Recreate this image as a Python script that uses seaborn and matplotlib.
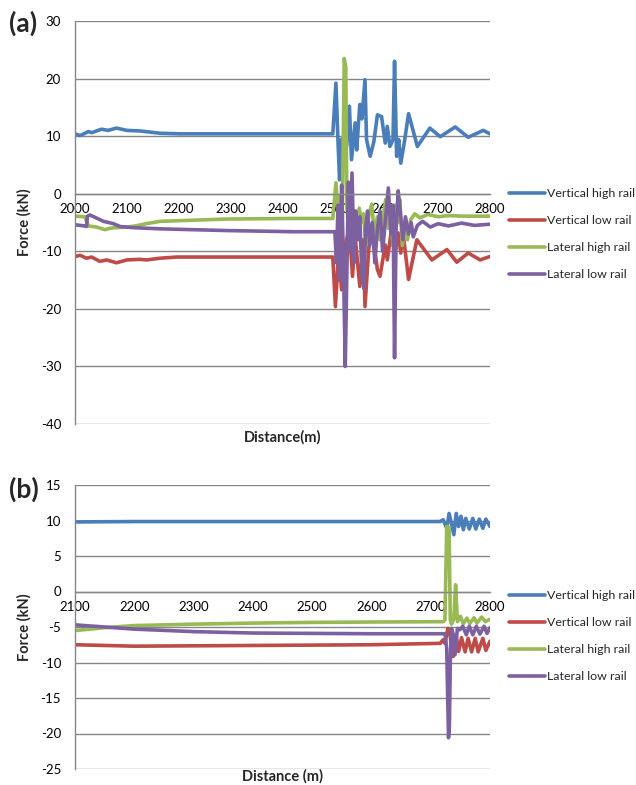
import numpy as np
import pandas as pd
import matplotlib
matplotlib.use("Agg")
import matplotlib.pyplot as plt
import seaborn as sns

# ---------------- data ----------------
series_names = ["Vertical high rail", "Vertical low rail", "Lateral high rail", "Lateral low rail"]
colors = ["#4A7EBB", "#BE4B48", "#98B954", "#7D60A0"]

# Panel (a)
a_vh_x = [2000, 2010, 2026, 2032, 2051, 2064, 2080, 2100, 2125, 2145, 2164, 2202, 2300, 2400, 2497,
          2503, 2507, 2510, 2514, 2518, 2524, 2529, 2533, 2540, 2543, 2549, 2553, 2559, 2562, 2569,
          2576, 2583, 2591, 2598, 2602, 2607, 2613, 2616, 2620, 2624, 2628, 2635, 2643, 2660, 2684,
          2704, 2733, 2758, 2787, 2800]
a_vh_y = [10.4, 10.1, 10.8, 10.6, 11.2, 11.0, 11.4, 11.0, 10.9, 10.7, 10.5, 10.4, 10.4, 10.4, 10.4,
          19.2, 9.0, 2.4, 9.5, 6.0, 8.5, 15.2, 5.9, 12.3, 7.6, 15.5, 13.0, 19.8, 9.4, 6.5,
          9.0, 13.7, 13.4, 8.8, 11.7, 8.2, 9.4, 23.0, 6.5, 9.4, 5.3, 9.0, 13.9, 8.2, 11.4,
          9.9, 11.6, 9.8, 11.0, 10.4]

a_vl_x = [2000, 2010, 2022, 2032, 2048, 2061, 2080, 2100, 2125, 2138, 2164, 2196, 2300, 2400, 2497,
          2502, 2508, 2514, 2520, 2529, 2535, 2540, 2549, 2556, 2559, 2569, 2575, 2583, 2588, 2598,
          2602, 2611, 2617, 2623, 2628, 2632, 2643, 2659, 2688, 2717, 2736, 2758, 2781, 2800]
a_vl_y = [-10.9, -10.7, -11.2, -11.0, -11.75, -11.5, -12.0, -11.5, -11.4, -11.5, -11.2, -11.0, -11.0, -11.0, -11.0,
          -19.6, -10.3, -16.7, -9.0, -6.25, -14.35, -7.4, -16.1, -8.0, -19.6, -5.7, -8.0, -13.2, -14.35, -8.9,
          -11.5, -5.7, -10.3, -6.8, -10.3, -6.5, -14.9, -8.0, -11.5, -9.7, -11.9, -10.3, -11.5, -10.9]

a_lh_x = [2000, 2019, 2026, 2042, 2058, 2067, 2077, 2100, 2116, 2138, 2164, 2228, 2292, 2420, 2497,
          2503, 2507, 2510, 2515, 2519, 2522, 2524, 2527, 2532, 2537, 2543, 2548, 2552, 2556, 2561,
          2566, 2572, 2577, 2583, 2588, 2594, 2599, 2604, 2608, 2613, 2617, 2622, 2626, 2631, 2636,
          2641, 2647, 2655, 2665, 2680, 2700, 2720, 2750, 2800]
a_lh_y = [-3.9, -4.0, -5.6, -5.8, -6.25, -6.0, -5.9, -5.8, -5.6, -5.2, -4.8, -4.6, -4.4, -4.3, -4.3,
          1.9, -3.0, -0.5, -6.0, 23.5, 22.0, -2.0, -6.0, -1.5, -8.0, -5.0, -2.5, -5.0, -3.5, -9.0,
          -4.0, -1.8, -7.0, -4.0, -8.0, -4.0, -1.0, -6.0, -3.0, -9.0, -2.0, -5.0, -1.0, -9.0, -5.0,
          -8.0, -4.5, -3.5, -4.2, -3.6, -4.0, -3.8, -3.9, -3.9]

a_ll_x = [2000, 2019, 2022, 2024, 2029, 2055, 2074, 2087, 2113, 2164, 2228, 2292, 2420, 2497,
          2501, 2504, 2507, 2510, 2514, 2517, 2521, 2524, 2527, 2530, 2534, 2538, 2541, 2545, 2549,
          2553, 2557, 2560, 2564, 2568, 2573, 2578, 2583, 2588, 2593, 2598, 2604, 2609, 2613, 2616,
          2619, 2623, 2627, 2632, 2637, 2643, 2648, 2652, 2660, 2670, 2685, 2700, 2720, 2745, 2770, 2800]
a_ll_y = [-5.4, -5.6, -5.7, -3.9, -3.7, -4.8, -5.2, -5.7, -5.9, -6.1, -6.25, -6.4, -6.6, -6.6,
          -6.6, -12.0, -2.0, -15.0, 1.5, -10.0, -30.0, -14.0, 2.0, -10.0, 3.6, -12.0, -3.0, -8.0, -4.0,
          -14.0, -16.5, -6.0, -3.0, -9.0, -5.0, -12.0, -6.0, -3.0, -10.0, -5.0, 1.0, -7.0, -2.0, -28.5,
          -6.0, 0.5, -3.0, -8.0, -4.0, -7.0, -5.0, -7.5, -5.5, -4.8, -5.8, -5.2, -5.6, -5.1, -5.5, -5.3]

# Panel (b)
b_vh_x = [2100, 2200, 2300, 2400, 2500, 2600, 2700, 2716, 2721, 2727, 2731, 2735, 2739, 2743, 2747,
          2751, 2755, 2759, 2765, 2771, 2776, 2782, 2788, 2793, 2800]
b_vh_y = [9.8, 9.85, 9.85, 9.85, 9.85, 9.85, 9.85, 9.86, 10.1, 8.9, 11.0, 9.6, 8.0, 11.0, 9.15,
          10.6, 8.7, 10.3, 8.8, 10.3, 8.8, 10.2, 8.9, 10.2, 9.15]

b_vl_x = [2100, 2200, 2300, 2400, 2500, 2600, 2716, 2721, 2724, 2729, 2732, 2735, 2738, 2743, 2747,
          2752, 2758, 2763, 2769, 2775, 2780, 2788, 2793, 2800]
b_vl_y = [-7.5, -7.7, -7.65, -7.6, -7.55, -7.5, -7.3, -6.8, -7.3, -5.2, -5.5, -8.0, -9.15, -6.3, -8.45,
          -6.5, -8.5, -6.6, -8.5, -6.6, -8.5, -6.6, -8.3, -7.0]

b_lh_x = [2100, 2150, 2200, 2300, 2400, 2500, 2600, 2721, 2724, 2727, 2731, 2733, 2735, 2739, 2742,
          2745, 2750, 2755, 2761, 2766, 2773, 2778, 2786, 2792, 2800]
b_lh_y = [-5.5, -5.1, -4.8, -4.6, -4.45, -4.35, -4.3, -4.25, -4.0, 9.15, 9.0, -4.0, -4.6, -3.8, 0.95,
          -4.25, -3.5, -4.55, -3.75, -4.5, -3.7, -4.45, -3.6, -4.25, -3.9]

b_ll_x = [2100, 2150, 2200, 2300, 2400, 2500, 2600, 2724, 2727, 2730, 2731.5, 2733, 2735, 2738, 2741,
          2745, 2749, 2754, 2760, 2765, 2771, 2777, 2783, 2790, 2795, 2800]
b_ll_y = [-4.7, -5.0, -5.3, -5.65, -5.85, -5.9, -5.95, -5.95, -8.0, -20.6, -19.0, -10.0, -5.2, -6.0, -8.9,
          -5.2, -5.4, -4.9, -6.1, -4.9, -6.1, -4.9, -6.0, -4.9, -5.9, -5.1]

a_xticks = list(range(2000, 2801, 100))
a_yticks = list(range(-40, 31, 10))
b_xticks = list(range(2100, 2801, 100))
b_yticks = list(range(-25, 16, 5))

# ---------------- style ----------------
sns.set_style("white")
plt.rcParams["font.family"] = ["Lato", "DejaVu Sans"]

GRID = "#868686"
W, H = 636, 785
LW = 2.6


def long_frame(xs_list, ys_list):
    frames = []
    for name, xs, ys in zip(series_names, xs_list, ys_list):
        frames.append(pd.DataFrame({"Distance": xs, "Force": ys, "Series": name}))
    return pd.concat(frames, ignore_index=True)


def px_rect(left, top, right, bottom):
    return [left / W, 1 - bottom / H, (right - left) / W, (bottom - top) / H]


def draw(ax, df, xticks, yticks, xlabel, xlabel_y, legend_top_px):
    sns.lineplot(data=df, x="Distance", y="Force", hue="Series", hue_order=series_names,
                 palette=colors, estimator=None, sort=False, linewidth=LW, ax=ax)
    ax.set_xlim(xticks[0], xticks[-1])
    ax.set_ylim(yticks[0], yticks[-1])
    ax.set_xticks(xticks)
    ax.set_yticks(yticks)
    ax.set_xticklabels([str(v) for v in xticks])
    ax.set_yticklabels([str(v) for v in yticks])
    for s in ["top", "right"]:
        ax.spines[s].set_visible(False)
    ax.spines["left"].set_color(GRID)
    ax.spines["left"].set_linewidth(1.0)
    ax.spines["bottom"].set_position(("data", 0))
    ax.spines["bottom"].set_color(GRID)
    ax.spines["bottom"].set_linewidth(1.0)
    ax.yaxis.grid(True, color=GRID, linewidth=1.0)
    ax.xaxis.grid(False)
    ax.set_axisbelow(True)
    ax.tick_params(axis="x", direction="out", length=5, width=1, color=GRID, pad=1.5,
                   labelsize=9.5, labelcolor="black")
    ax.tick_params(axis="y", direction="out", length=7, width=1, color=GRID, pad=3,
                   labelsize=9.5, labelcolor="black")
    ax.set_xlabel("")
    ax.set_ylabel("Force (kN)", fontsize=10.5, fontweight="bold")
    ax.yaxis.set_label_coords(-0.104, 0.5)
    ax.text(0.5, xlabel_y, xlabel, transform=ax.transAxes, ha="center", va="center",
            fontsize=10.5, fontweight="bold")
    handles, labels = ax.get_legend_handles_labels()
    for h in handles:
        h.set_linewidth(LW)
    ax.legend(handles, labels, loc="upper left",
              bbox_to_anchor=(509 / W, 1 - legend_top_px / H), bbox_transform=ax.figure.transFigure,
              frameon=False, fontsize=8.9, handlelength=2.9, handletextpad=0.2,
              labelspacing=1.3, borderaxespad=0, borderpad=0)


fig = plt.figure(figsize=(W / 100, H / 100), dpi=100)

ax1 = fig.add_axes(px_rect(75, 21, 490, 424))
draw(ax1, long_frame([a_vh_x, a_vl_x, a_lh_x, a_ll_x], [a_vh_y, a_vl_y, a_lh_y, a_ll_y]),
     a_xticks, a_yticks, "Distance(m)", -0.032, 188)

ax2 = fig.add_axes(px_rect(75, 485, 490, 769))
draw(ax2, long_frame([b_vh_x, b_vl_x, b_lh_x, b_ll_x], [b_vh_y, b_vl_y, b_lh_y, b_ll_y]),
     b_xticks, b_yticks, "Distance (m)", -0.027, 590)

fig.text(9 / W, 1 - 23 / H, "(a)", fontsize=19, fontweight="bold", ha="left", va="center")
fig.text(9 / W, 1 - 489 / H, "(b)", fontsize=19, fontweight="bold", ha="left", va="center")

fig.savefig("out.png", dpi=100)
